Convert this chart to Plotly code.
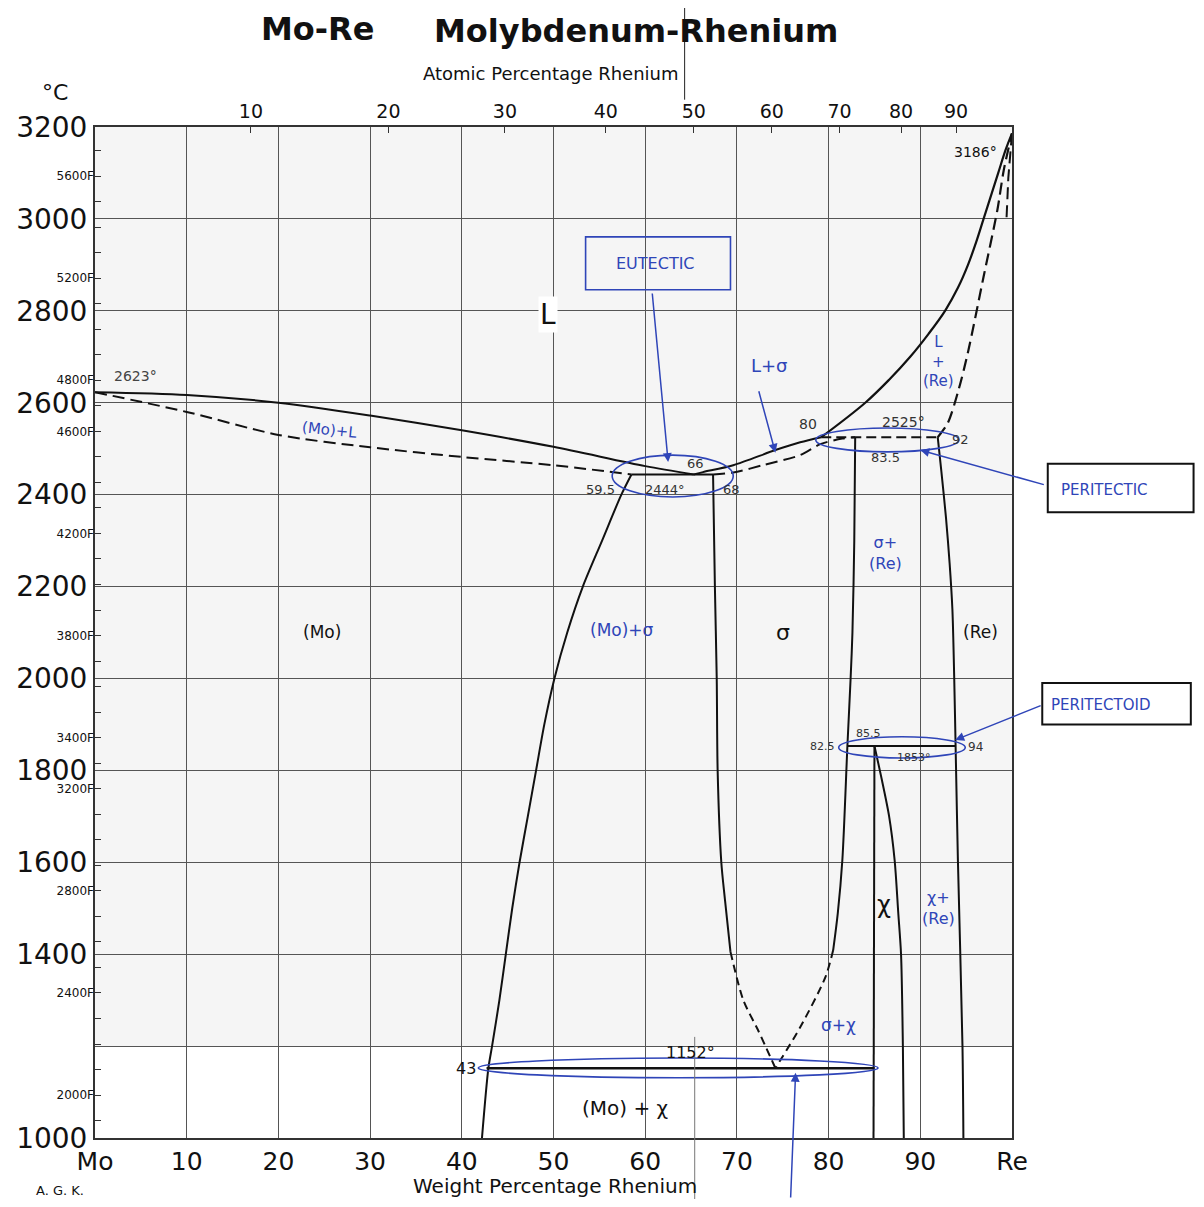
import plotly.graph_objects as go

# ---------------- data (wt% Re, temperature °C) ----------------
liq_mo_wt = [0, 10, 20, 30, 40, 50, 60, 65.3]
liq_mo_T = [2623, 2617, 2600, 2572, 2540, 2504, 2462, 2444]

sol_mo_wt = [0, 10, 20, 30, 40, 50, 58.5]
sol_mo_T = [2623, 2580, 2530, 2503, 2482, 2464, 2444]

solv_mo_wt = [58.5, 57.4, 55.3, 53.2, 51.5, 50.1, 49.0, 48.1, 47.2, 46.3, 45.5, 44.8, 44.1, 43.3, 42.9, 42.2]
solv_mo_T = [2444, 2400, 2300, 2200, 2100, 2000, 1900, 1800, 1700, 1600, 1500, 1400, 1300, 1200, 1152, 1000]

liq_sig_wt = [65.3, 66.3, 69.6, 74.2, 76.9, 79.2]
liq_sig_T = [2444, 2449, 2464, 2497, 2514, 2525]

sol_sig_wt = [67.4, 69.6, 73.0, 76.9, 79.1, 81.5, 82.9]
sol_sig_T = [2444, 2448, 2465, 2486, 2510, 2522, 2525]

sig_left_wt = [67.4, 67.6, 67.8, 67.9, 68.3, 68.7, 69.3]
sig_left_T = [2444, 2200, 2000, 1800, 1600, 1518, 1405]
sig_left_d_wt = [69.3, 70.7, 72.3, 74.2]
sig_left_d_T = [1405, 1300, 1235, 1152]

sig_right_wt = [82.9, 82.8, 82.6, 82.4, 82.05, 81.5, 81.0, 80.5]
sig_right_T = [2525, 2300, 2100, 2000, 1853, 1605, 1489, 1409]
sig_right_d_wt = [80.5, 79.65, 76.9, 74.2]
sig_right_d_T = [1409, 1350, 1241, 1152]

chi_left_wt = [85.0, 84.9]
chi_left_T = [1853, 1000]
chi_right_wt = [85.0, 85.8, 86.6, 87.2, 87.6, 87.9, 88.1, 88.2]
chi_right_T = [1853, 1780, 1700, 1605, 1489, 1400, 1200, 1000]

liq_re_wt = [79.2, 84.0, 86.6, 88.9, 90.9, 92.7, 94.1, 95.2, 96.1, 96.9, 97.7, 98.5, 99.3, 100]
liq_re_T = [2525, 2600, 2650, 2700, 2750, 2800, 2850, 2900, 2950, 3000, 3050, 3100, 3150, 3186]

sol_re_wt = [91.9, 93.0, 94.2, 95.2, 96.9, 98.4, 99.1, 100]
sol_re_T = [2525, 2556, 2630, 2710, 2874, 3019, 3106, 3186]

sol_re2_wt = [100, 99.6, 99.4]
sol_re2_T = [3186, 3090, 3000]

solv_re_wt = [91.9, 92.3, 92.8, 93.2, 93.5, 93.7, 93.85, 94.1, 94.6, 94.7]
solv_re_T = [2525, 2450, 2350, 2250, 2150, 2000, 1853, 1605, 1200, 1000]

eutectic_wt = [58.5, 67.4]; eutectic_T = [2444, 2444]
peritectic_wt = [79.2, 91.9]; peritectic_T = [2525, 2525]
peritectoid_wt = [82.05, 93.8]; peritectoid_T = [1853, 1853]
eutectoid_wt = [42.7, 85.0]; eutectoid_T = [1152, 1152]

# axis ticks
wt_ticks = [0, 10, 20, 30, 40, 50, 60, 70, 80, 90, 100]
wt_labels = ["Mo", "10", "20", "30", "40", "50", "60", "70", "80", "90", "Re"]
c_ticks = [1000, 1200, 1400, 1600, 1800, 2000, 2200, 2400, 2600, 2800, 3000, 3200]
c_labels = ["1000", "", "1400", "1600", "1800", "2000", "2200", "2400", "2600", "2800", "3000", "3200"]
at_ticks_wt = [17.0, 32.0, 44.7, 55.7, 65.3, 73.8, 81.2, 87.9, 93.9]
at_labels = ["10", "20", "30", "40", "50", "60", "70", "80", "90"]
f_labelled = [2000, 2400, 2800, 3200, 3400, 3800, 4200, 4600, 4800, 5200, 5600]

BLACK = "#111111"
BLUE = "#2f45b8"
DASH = "12px,6px"

fig = go.Figure()

def line(xs, ys, dash=None, width=2, shape="linear", smoothing=0.8):
    fig.add_trace(go.Scatter(x=xs, y=ys, mode="lines", showlegend=False, hoverinfo="skip",
                             line=dict(color=BLACK, width=width, dash=dash, shape=shape,
                                       smoothing=smoothing if shape == "spline" else None)))

line(liq_mo_wt, liq_mo_T, shape="spline")
line(sol_mo_wt, sol_mo_T, dash=DASH, shape="spline")
line(solv_mo_wt, solv_mo_T, shape="spline")
line(liq_sig_wt, liq_sig_T, shape="spline")
line(sol_sig_wt, sol_sig_T, dash=DASH, shape="spline")
line(sig_left_wt, sig_left_T, shape="spline")
line(sig_left_d_wt, sig_left_d_T, dash="8px,5px", shape="spline")
line(sig_right_wt, sig_right_T, shape="spline")
line(sig_right_d_wt, sig_right_d_T, dash="8px,5px", shape="spline")
line(chi_left_wt, chi_left_T)
line(chi_right_wt, chi_right_T, shape="spline")
line(liq_re_wt, liq_re_T, width=2.2, shape="spline", smoothing=1.0)
line(sol_re_wt, sol_re_T, dash=DASH, width=2.2, shape="spline")
line(sol_re2_wt, sol_re2_T, dash=DASH, width=2)
line(solv_re_wt, solv_re_T, shape="spline")
line(eutectic_wt, eutectic_T)
line(peritectic_wt, peritectic_T, dash="10px,5px")
line(peritectoid_wt, peritectoid_T)
line(eutectoid_wt, eutectoid_T, width=2.5)

# dummy traces so that the secondary axes are drawn
fig.add_trace(go.Scatter(x=[50], y=[4000], yaxis="y2", mode="markers", marker=dict(opacity=0),
                         showlegend=False, hoverinfo="skip"))
fig.add_trace(go.Scatter(x=[50], y=[2000], xaxis="x2", mode="markers", marker=dict(opacity=0),
                         showlegend=False, hoverinfo="skip"))

f_ticks = list(range(1900, 5800, 100))
f_text = [f"{v}F" if v in f_labelled else "" for v in f_ticks]

def c2f(c):
    return c * 9 / 5 + 32

# page body has an 8px default margin -> figure is 16px smaller, margins shifted by 8px
fig.update_layout(
    width=1188, height=1191,
    margin=dict(l=87, r=184, t=119, b=61, autoexpand=False),
    paper_bgcolor="white", plot_bgcolor="white",
    font=dict(family="DejaVu Sans", color=BLACK),
    xaxis=dict(range=[0, 100], tickvals=wt_ticks, ticktext=wt_labels,
               tickfont=dict(size=25, family="DejaVu Sans", color=BLACK),
               showgrid=True, gridcolor="#555", gridwidth=1,
               showline=True, linecolor="#333", linewidth=2, mirror=True,
               ticks="", zeroline=False, automargin=False),
    xaxis2=dict(range=[0, 100], overlaying="x", side="top", anchor="y",
                tickvals=at_ticks_wt, ticktext=at_labels, ticks="inside", ticklen=6,
                tickcolor="#333", tickfont=dict(size=19, color=BLACK),
                ticklabelstandoff=4,
                showgrid=False, zeroline=False, automargin=False),
    yaxis=dict(range=[1000, 3200], tickvals=c_ticks, ticktext=c_labels,
               tickfont=dict(size=28, family="DejaVu Sans", color=BLACK),
               showgrid=True, gridcolor="#555", gridwidth=1,
               showline=True, linecolor="#333", linewidth=2, mirror=True,
               ticks="", zeroline=False, automargin=False),
    yaxis2=dict(range=[c2f(1000), c2f(3200)], overlaying="y", side="left", anchor="x",
                tickvals=f_ticks, ticktext=f_text, ticks="inside", ticklen=6,
                tickcolor="#333", tickfont=dict(size=12, color=BLACK),
                showgrid=False, zeroline=False, showline=False, automargin=False),
)

shapes = []
# light paper tint above 1200 °C
shapes.append(dict(type="rect", xref="x", yref="y", x0=0, x1=100, y0=1200, y1=3200,
                   fillcolor="#f5f5f5", line=dict(width=0), layer="below"))
# hand-drawn ellipses
for (x0, x1, y0, y1) in [(56.4, 69.6, 2395, 2486), (78.6, 94.2, 2493, 2545),
                         (81.1, 94.9, 1827, 1873), (41.8, 85.4, 1131, 1174)]:
    shapes.append(dict(type="circle", xref="x", yref="y", x0=x0, x1=x1, y0=y0, y1=y1,
                       line=dict(color=BLUE, width=1.6)))
# boxes
shapes.append(dict(type="rect", xref="x", yref="y", x0=53.5, x1=69.3, y0=2846, y1=2961,
                   line=dict(color=BLUE, width=1.6)))
shapes.append(dict(type="rect", xref="paper", yref="paper", x0=1.039, x1=1.198, y0=0.619, y1=0.667,
                   line=dict(color=BLACK, width=2)))
shapes.append(dict(type="rect", xref="paper", yref="paper", x0=1.033, x1=1.195, y0=0.409, y1=0.450,
                   line=dict(color=BLACK, width=2)))
# scan artefact lines
shapes.append(dict(type="line", xref="paper", yref="paper", x0=0.643, x1=0.643, y0=1.027, y1=1.13,
                   line=dict(color="#222", width=1)))
shapes.append(dict(type="line", xref="paper", yref="paper", x0=0.654, x1=0.654, y0=-0.068, y1=0.1,
                   line=dict(color="#777", width=1)))
fig.update_layout(shapes=shapes)

ann = []
def txt(x, y, s, size=14, color=BLACK, ref="data", family="DejaVu Sans", **kw):
    d = dict(x=x, y=y, text=s, showarrow=False, xanchor="center", yanchor="middle",
             font=dict(size=size, color=color, family=family), **kw)
    if ref == "paper":
        d.update(xref="paper", yref="paper")
    else:
        d.update(xref="x", yref="y")
    ann.append(d)

# title and axis titles
txt(0.243, 1.097, "<b>Mo-Re</b>", size=32, ref="paper")
txt(0.590, 1.095, "<b>Molybdenum-Rhenium</b>", size=32, ref="paper")
txt(-0.044, 1.034, "°C", size=22, ref="paper")
txt(0.497, 1.053, "Atomic Percentage Rhenium", size=18, ref="paper")
txt(0.502, -0.047, "Weight Percentage Rhenium", size=20, ref="paper")
txt(-0.038, -0.052, "A. G. K.", size=13, ref="paper")

# printed labels
txt(4.4, 2658, "2623°", size=14, color="#444")
txt(96.0, 3146, "3186°", size=14)
txt(49.4, 2791, "L", size=28, bgcolor="white")
txt(65.5, 2467, "66", size=13, color="#333")
txt(55.1, 2412, "59.5", size=13, color="#333")
txt(62.2, 2412, "2444°", size=13, color="#333")
txt(69.4, 2412, "68", size=13, color="#333")
txt(77.8, 2554, "80", size=14, color="#333")
txt(88.2, 2558, "2525°", size=14, color="#333")
txt(94.4, 2519, "92", size=13, color="#333")
txt(86.2, 2480, "83.5", size=13, color="#333")
txt(24.8, 2101, "(Mo)", size=17)
txt(75.0, 2101, "σ", size=22)
txt(96.6, 2101, "(Re)", size=17)
txt(84.3, 1881, "85.5", size=11, color="#333")
txt(79.3, 1851, "82.5", size=11, color="#333")
txt(89.3, 1827, "1853°", size=11, color="#333")
txt(96.0, 1851, "94", size=12, color="#333")
txt(86.0, 1507, "χ", size=24)
txt(40.5, 1152, "43", size=16)
txt(64.9, 1185, "1152°", size=16)
txt(57.8, 1066, "(Mo) + χ", size=20)

# hand-written blue labels
txt(61.1, 2904, "EUTECTIC", size=16, color=BLUE)
txt(73.6, 2682, "L+σ", size=18, color=BLUE)
txt(92.0, 2689, "L<br>+<br>(Re)", size=15, color=BLUE)
txt(86.2, 2273, "σ+<br>(Re)", size=16, color=BLUE)
txt(92.0, 1500, "χ+<br>(Re)", size=16, color=BLUE)
txt(57.5, 2105, "(Mo)+σ", size=17, color=BLUE)
txt(25.6, 2541, "(Mo)+L", size=15, color=BLUE, textangle=6)
txt(81.1, 1246, "σ+χ", size=17, color=BLUE)
txt(1.101, 0.641, "PERITECTIC", size=15, color=BLUE, ref="paper")
txt(1.096, 0.428, "PERITECTOID", size=15, color=BLUE, ref="paper")

def arrow(x, y, ax, ay):
    ann.append(dict(x=x, y=y, xref="x", yref="y", ax=ax, ay=ay, axref="pixel", ayref="pixel",
                    text="", showarrow=True, arrowhead=2, arrowsize=1.2, arrowwidth=1.5,
                    arrowcolor=BLUE))

arrow(62.5, 2471, -16, -170)
arrow(74.2, 2491, -17, -63)
arrow(90.0, 2497, 125, 35)
arrow(93.8, 1866, 87, -35)
arrow(76.4, 1142, -5, 134)

fig.update_layout(annotations=ann)

fig.write_html("out.html")
